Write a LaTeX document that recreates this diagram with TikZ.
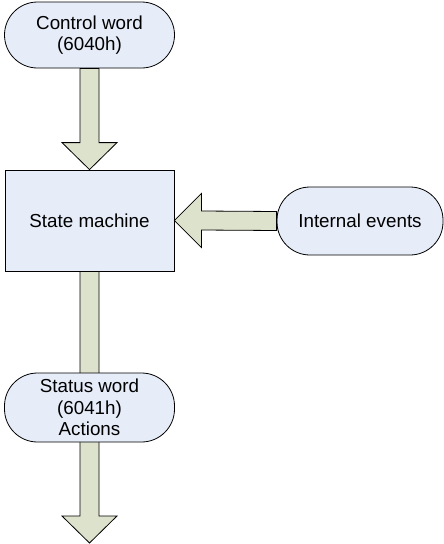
\documentclass[tikz,border=0pt]{standalone}
\usepackage{fontspec}
\setmainfont{Liberation Sans}
\usetikzlibrary{calc}
\definecolor{nodefill}{RGB}{230,236,248}
\definecolor{arrowfill}{RGB}{221,226,204}
\tikzset{
  x=1pt, y=-1pt,
  box/.style={draw=black, line width=0.8pt, fill=nodefill, align=center,
    font=\fontsize{18.8}{21.5}\selectfont, inner sep=0pt},
  term/.style={box, rounded corners=33pt},
  fatarrow/.style={draw=black, line width=0.8pt, fill=arrowfill, line join=miter},
}
\begin{document}
\begin{tikzpicture}
\useasboundingbox (0,0) rectangle (444,544);
% nodes
\node[term, minimum width=170pt, minimum height=66pt] (cw) at (89.5,35) {Control word\\(6040h)};
\node[box, minimum width=169pt, minimum height=101pt] (sm) at (89.5,220.5) {State machine};
\node[term, minimum width=166pt, minimum height=68pt] (ie) at (360,221) {Internal events};
\coordinate (out) at (89.5,543);
% arrow 3 (behind status word)
\draw[fatarrow] ($(sm.south)+(-9.5,0)$) -- ($(out)+(-9.5,-27)$) -- ($(out)+(-27.5,-27)$)
  -- (out) -- ($(out)+(27.5,-27)$) -- ($(out)+(9.5,-27)$) -- ($(sm.south)+(9.5,0)$) -- cycle;
\node[term, minimum width=170pt, minimum height=69pt] (sw) at (89.5,407.5) {Status word\\(6041h)\\Actions};
% arrow 1
\draw[fatarrow] ($(cw.south)+(-9.5,0)$) -- ($(sm.north)+(-9.5,-27)$) -- ($(sm.north)+(-27.5,-27)$)
  -- (sm.north) -- ($(sm.north)+(27.5,-27)$) -- ($(sm.north)+(9.5,-27)$) -- ($(cw.south)+(9.5,0)$) -- cycle;
% arrow 2
\draw[fatarrow] ($(ie.west)+(0,-9.5)$) -- ($(sm.east)+(27,-9.5)$) -- ($(sm.east)+(27,-27)$)
  -- (sm.east) -- ($(sm.east)+(27,27)$) -- ($(sm.east)+(27,9.5)$) -- ($(ie.west)+(0,9.5)$) -- cycle;
\end{tikzpicture}
\end{document}
